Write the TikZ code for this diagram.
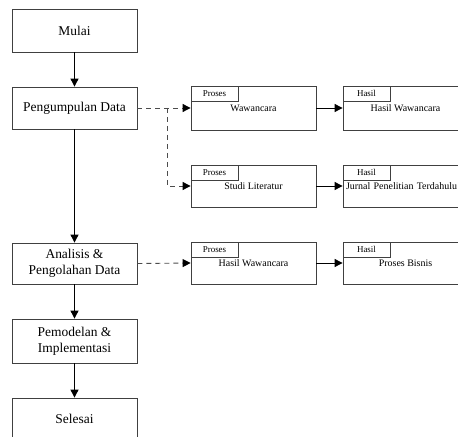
\documentclass[tikz,border=0pt]{standalone}
\usepackage{fontspec}
\setmainfont{Liberation Serif}
\usetikzlibrary{arrows.meta}
\begin{document}
\begin{tikzpicture}[x=1bp,y=-1bp,
  mainbox/.style={draw=black!75,line width=0.8bp,minimum width=125bp,inner sep=2bp,align=center,
    font=\fontsize{13.5}{16}\selectfont,fill=white},
  subbox/.style={draw=black!75,line width=0.8bp,minimum width=125bp,minimum height=43bp,inner sep=2bp,align=center,
    font=\fontsize{10}{12}\selectfont,fill=white},
  tabbox/.style={draw=black!75,line width=0.8bp,minimum width=47bp,minimum height=15bp,inner sep=0pt,anchor=north west,
    font=\fontsize{9}{10}\selectfont},
  flow/.style={draw=black,line width=0.9bp,-{Triangle[length=8bp,width=8bp]}},
  dflow/.style={draw=black!70,line width=0.9bp,dash pattern=on 5bp off 4bp,-{Triangle[length=8bp,width=8bp,color=black]}}]
\useasboundingbox (0,0) rectangle (458,437);
\clip (0,0) rectangle (458,437);
% left column
\node[mainbox,minimum height=43bp] (mulai) at (74.5,30.5) {Mulai};
\node[mainbox,minimum height=42bp] (peng) at (74.5,108) {Pengumpulan Data};
\node[mainbox,minimum height=41bp] (anal) at (74.5,263.5) {Analisis \&\\Pengolahan Data};
\node[mainbox,minimum height=44bp] (model) at (74.5,341) {Pemodelan \&\\Implementasi};
\node[mainbox,minimum height=42bp] (selesai) at (74.5,419) {Selesai};
% right boxes
\node[subbox,minimum height=44bp] (p1) at (253.5,108) {Wawancara};
\node[subbox,minimum height=44bp] (h1) at (405.5,108) {Hasil Wawancara};
\node[subbox,minimum height=42bp] (p2) at (253.5,186) {Studi Literatur};
\node[subbox,minimum height=42bp,text width=119bp,align=left] (h2) at (405.5,186) {Jurnal Penelitian Terdahulu};
\node[subbox,minimum height=42bp] (p3) at (253.5,263) {Hasil Wawancara};
\node[subbox,minimum height=42bp] (h3) at (405.5,263) {Proses Bisnis};
% tabs
\node[tabbox] (t1) at (p1.north west) {Proses};
\node[tabbox] (t2) at (h1.north west) {Hasil};
\node[tabbox] (t3) at (p2.north west) {Proses};
\node[tabbox] (t4) at (h2.north west) {Hasil};
\node[tabbox] (t5) at (p3.north west) {Proses};
\node[tabbox] (t6) at (h3.north west) {Hasil};
% main flow
\draw[flow] (mulai) -- (peng);
\draw[flow] (peng) -- (anal);
\draw[flow] (anal) -- (model);
\draw[flow] (model) -- (selesai);
% dashed
\coordinate (br) at (167,108);
\draw[dflow] (peng.east) -- (p1.west);
\draw[dflow] (br) |- (p2.west);
\draw[dflow] (anal.east) -- (p3.west);
% proses -> hasil
\draw[flow] (p1) -- (h1);
\draw[flow] (p2) -- (h2);
\draw[flow] (p3) -- (h3);
\end{tikzpicture}
\end{document}
